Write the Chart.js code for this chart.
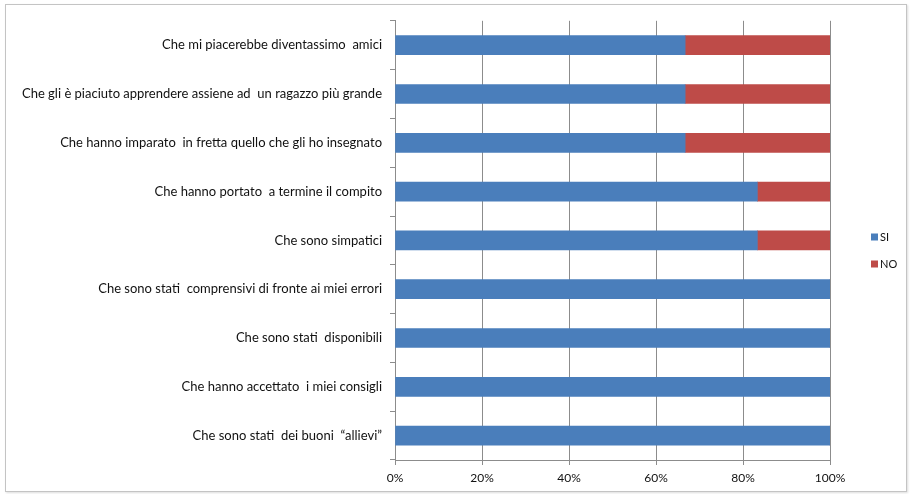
<!DOCTYPE html>
<html>
<head>
<meta charset="utf-8">
<script src="https://cdn.jsdelivr.net/npm/chart.js@4"></script>
<style>
  body { margin: 0; background: #fff; }
  #box { position: absolute; left: 5px; top: 4px; width: 900px; height: 486px; border: 1px solid #c4c4c4; box-shadow: 1px 1px 2px #ddd; }
</style>
</head>
<body>
<div id="box"><canvas id="barChart" width="900" height="486"></canvas></div>
<script>
const categories = [
  'Che mi piacerebbe diventassimo  amici',
  'Che gli è piaciuto apprendere assiene ad  un ragazzo più grande',
  'Che hanno imparato  in fretta quello che gli ho insegnato',
  'Che hanno portato  a termine il compito',
  'Che sono simpatici',
  'Che sono stati  comprensivi di fronte ai miei errori',
  'Che sono stati  disponibili',
  'Che hanno accettato  i miei consigli',
  'Che sono stati  dei buoni  “allievi”'
];
const siValues = [66.7, 66.7, 66.7, 83.3, 83.3, 100, 100, 100, 100];
const noValues = [33.3, 33.3, 33.3, 16.7, 16.7, 0, 0, 0, 0];
const xTicks = [0, 20, 40, 60, 80, 100];

const font = "Lato, 'Open Sans', sans-serif";

// small legend drawn at the right, like the original
const sideLegend = {
  id: 'sideLegend',
  afterDraw(chart) {
    const ctx = chart.ctx;
    const x = chart.chartArea.right + 41;
    let y = 232;
    ctx.save();
    ctx.font = '11px ' + font;
    ctx.textBaseline = 'middle';
    chart.data.datasets.forEach(ds => {
      ctx.fillStyle = ds.backgroundColor;
      ctx.fillRect(x, y - 3.5, 7, 7);
      ctx.fillStyle = '#111';
      ctx.fillText(ds.label, x + 9, y);
      y += 27;
    });
    ctx.restore();
  }
};

new Chart(document.getElementById('barChart'), {
  type: 'bar',
  data: {
    labels: categories,
    datasets: [
      { label: 'SI', data: siValues, backgroundColor: '#4a7ebb' },
      { label: 'NO', data: noValues, backgroundColor: '#be4b48' }
    ]
  },
  options: {
    indexAxis: 'y',
    responsive: false,
    animation: false,
    barThickness: 19,
    layout: { padding: { top: 15, right: 76, bottom: 0, left: 0 } },
    plugins: { legend: { display: false }, tooltip: { enabled: false } },
    scales: {
      x: {
        stacked: true,
        min: 0,
        max: 100,
        afterBuildTicks(scale) { scale.ticks = xTicks.map(v => ({ value: v })); },
        afterFit(scale) { scale.height = 31; },
        grid: { color: '#8c8c8c', lineWidth: 1, tickLength: 5 },
        border: { color: '#8c8c8c' },
        ticks: {
          padding: 6,
          color: '#111',
          font: { family: font, size: 12 },
          callback: v => v + '%'
        }
      },
      y: {
        stacked: true,
        afterFit(scale) { scale.width = 389; },
        grid: { drawOnChartArea: false, color: '#8c8c8c', tickLength: 5 },
        border: { color: '#8c8c8c' },
        ticks: {
          padding: 8,
          color: '#111',
          autoSkip: false,
          font: { family: font, size: 13 }
        }
      }
    }
  },
  plugins: [sideLegend]
});
</script>
</body>
</html>
